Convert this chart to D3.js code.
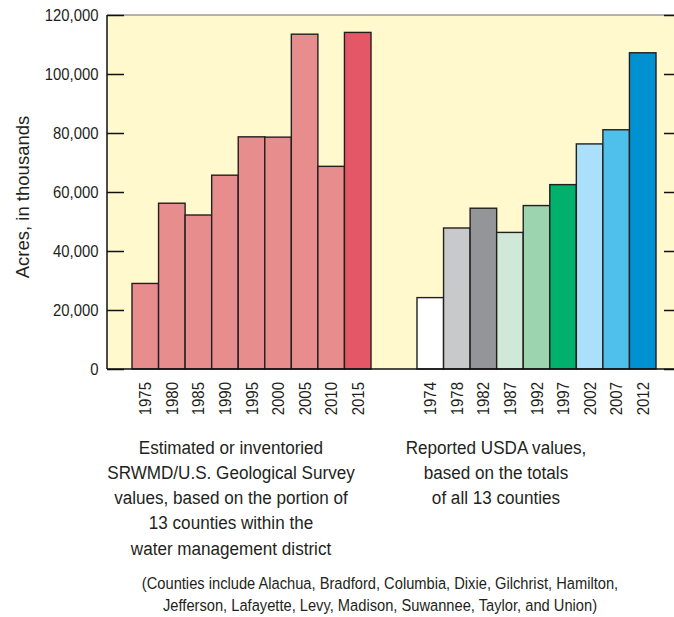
<!DOCTYPE html>
<html><head><meta charset="utf-8">
<script src="https://cdn.jsdelivr.net/npm/d3@7"></script>
<style>
html,body{margin:0;padding:0;background:#fff;}
svg{display:block;}
</style></head>
<body>
<svg id="chart" width="674" height="617"></svg>
<script>
// ---- data ----
const leftYears = ["1975","1980","1985","1990","1995","2000","2005","2010","2015"];
const leftValues = [29000, 56200, 52200, 65700, 78700, 78600, 113500, 68700, 114100];
const leftColors = ["#e88d8d","#e88d8d","#e88d8d","#e88d8d","#e88d8d","#e88d8d","#e88d8d","#e88d8d","#e35766"];

const rightYears = ["1974","1978","1982","1987","1992","1997","2002","2007","2012"];
const rightValues = [24200, 47800, 54500, 46300, 55400, 62500, 76300, 81100, 107200];
const rightColors = ["#ffffff","#c8c9cb","#939598","#cfe8d7","#9dd4b0","#00b16c","#abe0fa","#4fc0ec","#0091d0"];

const yTicks = [0, 20000, 40000, 60000, 80000, 100000, 120000];
const yLabel = "Acres, in thousands";
const leftCaption = ["Estimated or inventoried","SRWMD/U.S. Geological Survey","values, based on the portion of","13 counties within the","water management district"];
const rightCaption = ["Reported USDA values,","based on the totals","of all 13 counties"];
const footnote = ["(Counties include Alachua, Bradford, Columbia, Dixie, Gilchrist, Hamilton,","Jefferson, Lafayette, Levy, Madison, Suwannee, Taylor, and Union)"];

// ---- layout ----
const svg = d3.select("#chart");
const plot = {left:107, right:681, top:15, bottom:369};
const font = "'Liberation Sans',Arial,Helvetica,sans-serif";
const ink = "#231f20";

const y = d3.scaleLinear().domain([0,120000]).range([plot.bottom, plot.top]);
const xL = d3.scaleBand().domain(leftYears).range([132,371]).padding(0);
const xR = d3.scaleBand().domain(rightYears).range([417,656]).padding(0);

// background
svg.append("rect").attr("x",plot.left).attr("y",plot.top)
  .attr("width",plot.right-plot.left).attr("height",plot.bottom-plot.top)
  .attr("fill","#fff9cd");
// top border
svg.append("line").attr("x1",plot.left).attr("x2",plot.right).attr("y1",plot.top).attr("y2",plot.top)
  .attr("stroke","#6d6d6d").attr("stroke-width",1.2);

// bars
function drawBars(years, values, colors, x){
  svg.append("g").selectAll("rect").data(years).join("rect")
    .attr("x", d=>x(d)).attr("width", x.bandwidth())
    .attr("y", (d,i)=>y(values[i])).attr("height",(d,i)=>y(0)-y(values[i]))
    .attr("fill",(d,i)=>colors[i]).attr("stroke",ink).attr("stroke-width",1.4);
}
drawBars(leftYears,leftValues,leftColors,xL);
drawBars(rightYears,rightValues,rightColors,xR);

// left axis
const axL = svg.append("g").attr("transform",`translate(${plot.left},0)`)
  .call(d3.axisRight(y).tickValues(yTicks).tickSize(17).tickFormat(""));
axL.select(".domain").remove();
axL.selectAll("line").attr("stroke","#111").attr("stroke-width",1.5);
svg.append("line").attr("x1",plot.left).attr("x2",plot.left).attr("y1",plot.top).attr("y2",plot.bottom)
  .attr("stroke","#111").attr("stroke-width",1.5);
// right axis
const axR = svg.append("g").attr("transform",`translate(${plot.right},0)`)
  .call(d3.axisLeft(y).tickValues(yTicks).tickSize(17).tickFormat(""));
axR.select(".domain").remove();
axR.selectAll("line").attr("stroke","#111").attr("stroke-width",1.5);
// bottom
svg.append("line").attr("x1",plot.left).attr("x2",plot.right).attr("y1",plot.bottom).attr("y2",plot.bottom)
  .attr("stroke","#111").attr("stroke-width",1.5);

// y tick labels (condensed look via horizontal scale)
svg.append("g").selectAll("text").data(yTicks).join("text")
  .attr("transform", d=>`translate(98.5,${y(d)}) scale(0.9,1)`).attr("dy","0.36em")
  .attr("text-anchor","end").attr("font-family",font).attr("font-size",16.5).attr("fill",ink)
  .text(d=>d3.format(",")(d));

// y label
svg.append("text").attr("transform","translate(29,197) rotate(-90)")
  .attr("text-anchor","middle").attr("font-family",font)
  .attr("font-size",18.5).attr("fill",ink).text(yLabel);

// x tick labels
function xLabels(years, x){
  svg.append("g").selectAll("text").data(years).join("text")
    .attr("transform", d=>`translate(${x(d)+x.bandwidth()/2+6},382) rotate(-90) scale(0.92,1)`)
    .attr("text-anchor","end").attr("font-family",font).attr("font-size",16.3).attr("fill",ink)
    .text(d=>d);
}
xLabels(leftYears,xL);
xLabels(rightYears,xR);

// captions
function caption(lines, cx, y0, step, size, sx){
  svg.append("g").selectAll("text").data(lines).join("text")
    .attr("transform",(d,i)=>`translate(${cx},${y0+i*step}) scale(${sx},1)`)
    .attr("text-anchor","middle")
    .attr("font-family",font).attr("font-size",size).attr("fill",ink).text(d=>d);
}
caption(leftCaption,231,453.5,25.3,19,0.9);
caption(rightCaption,496,453.5,25.3,19,0.9);
caption(footnote,380,588.5,22,16.5,0.89);
</script>
</body></html>
